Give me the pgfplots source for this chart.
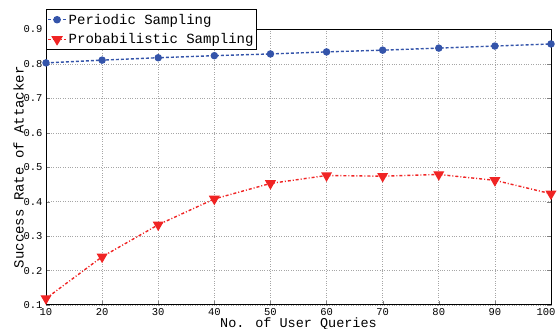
\documentclass[border=0pt]{standalone}
\usepackage{fontspec}
\setmainfont{Liberation Mono}
\setmonofont{Liberation Mono}
\usepackage{pgfplots}
\pgfplotsset{compat=1.18}
\definecolor{pblue}{RGB}{52,84,170}
\definecolor{pred}{RGB}{240,36,36}
\begin{document}
\begin{tikzpicture}
\begin{axis}[
  name=ax,
  scale only axis,
  width=505pt, height=275.5pt,
  xmin=10, xmax=100, ymin=0.1, ymax=0.9,
  xtick={10,20,...,100},
  xticklabels={10,20,30,40,50,60,70,80,90,\hspace*{-10pt}100},
  ytick={0.1,0.2,...,0.9},
  yticklabel style={/pgf/number format/fixed,/pgf/number format/precision=1},
  /pgf/number format/assume math mode=true,
  tick label style={font=\fontsize{10.5}{12}\selectfont},
  xticklabel style={yshift=0.5pt},
  tick align=inside,
  major tick length=4pt,
  xtick pos=bottom,
  ytick pos=both,
  grid=major,
  grid style={dotted, gray!70, line width=0.6pt},
  axis line style={line width=1pt},
  xlabel={No. of User Queries},
  ylabel={Success Rate of Attacker},
  xlabel style={font=\fontsize{13.5}{15}\selectfont, yshift=4.5pt},
  ylabel style={font=\fontsize{14}{16}\selectfont, yshift=-7pt},
  legend style={at={(0,1)}, anchor=north west, yshift=20.5pt,
    font=\fontsize{14}{15}\selectfont, draw=black, line width=0.8pt,
    inner xsep=1pt, inner ysep=2.5pt, row sep=4pt, cells={anchor=west}},
  legend image post style={xscale=1.05},
  legend cell align=left,
]
\addplot[pblue, line width=1.4pt, dash pattern=on 3pt off 2pt,
  mark=*, mark size=3pt, mark options={solid}]
  coordinates {(10,0.803)(20,0.811)(30,0.818)(40,0.824)(50,0.829)(60,0.835)(70,0.840)(80,0.846)(90,0.852)(100,0.858)};
\addlegendentry{Periodic Sampling}
\addplot[pred, line width=1.4pt, dash pattern=on 3pt off 2pt on 1pt off 2pt,
  mark=triangle*, mark size=5pt, mark options={solid, rotate=180}]
  coordinates {(10,0.119)(20,0.240)(30,0.333)(40,0.408)(50,0.453)(60,0.476)(70,0.474)(80,0.479)(90,0.462)(100,0.423)};
\addlegendentry{Probabilistic Sampling}
\end{axis}
\pgfresetboundingbox
\path[use as bounding box] ([shift={(-46pt,-24pt)}]ax.south west) rectangle ([shift={(7pt,29.5pt)}]ax.north east);
\end{tikzpicture}
\end{document}
